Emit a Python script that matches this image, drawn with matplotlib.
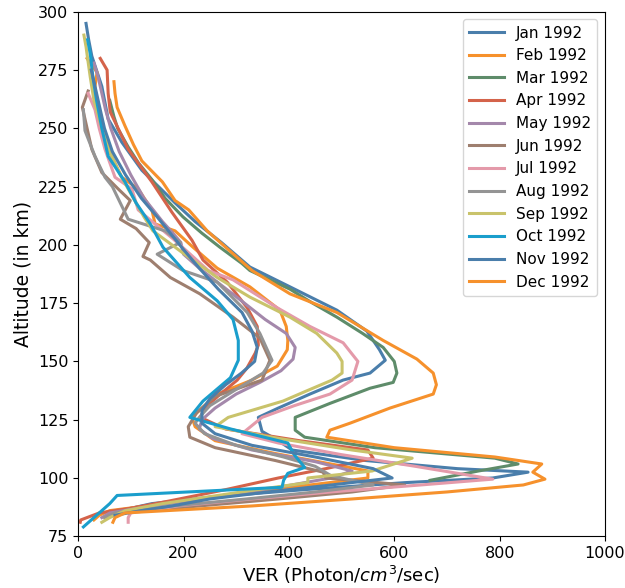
import matplotlib
matplotlib.use("Agg")
import matplotlib.pyplot as plt

months = ["Jan 1992", "Feb 1992", "Mar 1992", "Apr 1992", "May 1992", "Jun 1992",
          "Jul 1992", "Aug 1992", "Sep 1992", "Oct 1992", "Nov 1992", "Dec 1992"]
colors = ["#4a7eab", "#f6912c", "#5e8c6a", "#d4634a", "#a488ab", "#9e7f6f",
          "#e49aaa", "#949494", "#c9c36b", "#1a9ecc", "#4a7eab", "#f6912c"]

jan_alt = [295, 288, 281, 268, 254, 244, 232, 218, 210, 201, 190.5, 182, 172, 163, 155, 150.5, 145, 142, 136, 130, 126, 120, 116, 112, 107.5, 104, 102.5, 100, 98, 95, 92, 89, 86, 84]
jan_ver = [15, 20, 26, 45, 57, 83, 121, 184, 222, 272, 326, 402, 491, 548, 572, 583, 554, 503, 440, 380, 342, 349, 380, 406, 545, 720, 854, 787, 620, 430, 260, 140, 80, 60]

feb_alt = [280, 274, 268, 259, 251, 241, 229, 224, 215, 209, 206, 199, 190, 182, 172, 165, 159, 155, 148, 142, 136, 131, 126, 122, 116, 110.5, 106, 103, 100, 97, 94, 90, 86, 84, 82]
feb_ver = [17, 36, 32, 36, 42, 57, 83, 114, 140, 146, 184, 218, 264, 326, 383, 395, 398, 397, 378, 330, 264, 240, 216, 222, 260, 374, 480, 550, 550, 440, 330, 200, 60, 40, 30]

mar_alt = [262, 255, 250, 242, 235, 228, 220, 212, 205, 199, 192, 189, 181, 175, 169, 162, 156, 150, 145, 141, 138.5, 132, 126, 120.5, 117.5, 113, 108.5, 106, 103, 99]
mar_ver = [60, 68, 75, 95, 115, 140, 165, 199, 235, 269, 311, 326, 402, 445, 491, 540, 579, 600, 605, 598, 554, 478, 412, 412, 430, 563, 791, 835, 760, 668]

apr_alt = [280, 275, 265, 257, 241, 227, 214, 202, 193.5, 184, 173, 165, 157, 153.5, 147, 142, 136, 130, 126, 121, 116, 112, 108.5, 104, 100, 95, 90, 87, 85, 82, 81]
apr_ver = [42, 55, 57, 61, 95, 140, 178, 216, 237, 283, 321, 340, 342, 336, 320, 302, 270, 240, 232, 280, 420, 550, 560, 470, 380, 280, 170, 100, 40, 5, 4]

may_alt = [278, 272, 265, 258, 250, 240, 230, 220, 210, 205, 201, 196, 190, 183, 176, 168, 162, 156, 151, 146, 141, 136, 130, 125, 121, 117, 112, 107, 103, 100, 96, 92, 88, 85, 83]
may_ver = [30, 38, 45, 52, 62, 78, 100, 125, 160, 180, 195, 200, 230, 270, 310, 355, 395, 412, 408, 385, 345, 300, 260, 235, 230, 255, 330, 450, 520, 480, 380, 260, 140, 60, 45]

jun_alt = [266, 259, 254, 241, 231, 224, 219, 211, 207, 201, 195, 193.5, 186, 179, 169, 160, 150.5, 142, 135, 128, 122, 117.5, 113, 107.5, 102.5, 100, 97, 94, 91, 88, 85, 83]
jun_ver = [19, 8, 13, 26, 45, 76, 99, 80, 110, 135, 123, 137, 175, 231, 294, 345, 364, 349, 260, 225, 209, 212, 260, 374, 465, 470, 620, 520, 380, 230, 80, 55]

jul_alt = [265, 258, 250, 241, 229, 224, 215, 209, 203, 198, 189, 185, 173, 165, 158, 150, 142, 136, 131, 126, 119, 115, 110, 105, 102, 99.5, 97, 94, 91, 88, 85, 83, 81]
jul_ver = [19, 32, 40, 51, 70, 102, 114, 146, 178, 203, 247, 294, 378, 440, 503, 531, 520, 478, 410, 349, 311, 380, 500, 640, 720, 787, 650, 480, 330, 190, 100, 95, 95]

aug_alt = [258, 249, 238, 229, 225, 218, 211, 206, 201, 196, 189, 184, 171, 162, 150.5, 145, 138, 131, 126, 123.5, 119, 114, 109, 105, 101, 97, 94, 91, 88, 85, 83]
aug_ver = [10, 13, 32, 51, 65, 80, 95, 165, 194, 150, 199, 264, 321, 345, 368, 351, 300, 250, 230, 222, 240, 300, 390, 450, 480, 560, 450, 320, 180, 70, 50]

sep_alt = [290, 285, 280, 272, 262, 250, 240, 230, 220, 212, 206, 196.5, 186, 177.6, 169, 162, 153.6, 150, 145, 142, 137, 133, 126, 122, 117, 112, 108.5, 103, 100, 98, 95, 92, 89, 86, 83, 81]
sep_ver = [11, 15, 18, 23, 30, 45, 60, 80, 105, 125, 142, 199, 264, 326, 402, 453, 491, 501, 501, 482, 430, 389, 285, 260, 380, 520, 634, 558, 436, 436, 340, 250, 160, 90, 60, 45]

oct_alt = [288, 282, 272, 262, 250, 238, 227, 218, 209, 199, 186, 176, 168, 159, 150.5, 143, 133, 126, 121, 115, 110, 104.5, 102, 99, 96, 92.5, 89, 86, 82, 79]
oct_ver = [18, 23, 28, 35, 45, 57, 89, 110, 137, 161, 212, 264, 294, 304, 304, 289, 237, 212, 290, 398, 410, 430, 398, 390, 387, 74, 60, 45, 25, 10]

nov_alt = [275, 268, 260, 250, 240, 230, 220, 212, 205, 198, 190, 181, 171, 163, 156, 150, 145, 140, 134, 129, 123.5, 119, 114, 109, 104, 100, 97, 94, 91, 88, 86, 84]
nov_ver = [25, 32, 40, 50, 65, 90, 120, 150, 175, 200, 230, 266, 311, 330, 340, 335, 310, 280, 250, 235, 235, 260, 330, 450, 560, 596, 480, 360, 250, 178, 120, 70]

dec_alt = [270, 265, 259, 251, 243, 236, 227, 219, 215, 206, 198, 189, 179, 171, 165, 159, 151, 145, 140, 136, 130, 123.5, 120.5, 117.5, 113, 109, 106, 102.5, 99.5, 97, 94, 91, 88, 85, 83, 81]
dec_ver = [68, 70, 74, 89, 105, 121, 160, 184, 210, 245, 285, 330, 402, 491, 535, 579, 643, 674, 680, 674, 592, 516, 478, 472, 600, 791, 880, 863, 886, 845, 700, 520, 330, 89, 70, 66]

series = [(jan_ver, jan_alt), (feb_ver, feb_alt), (mar_ver, mar_alt), (apr_ver, apr_alt),
          (may_ver, may_alt), (jun_ver, jun_alt), (jul_ver, jul_alt), (aug_ver, aug_alt),
          (sep_ver, sep_alt), (oct_ver, oct_alt), (nov_ver, nov_alt), (dec_ver, dec_alt)]

fig = plt.figure(figsize=(6.25, 5.88), dpi=100)
ax = fig.add_axes([0.125, 0.088, 0.843, 0.892])
for (v, a), lab, c in zip(series, months, colors):
    ax.plot(v, a, color=c, lw=2.2, label=lab)

ax.set_xlim(0, 1000)
ax.set_ylim(75, 300)
ax.set_xticks([0, 200, 400, 600, 800, 1000])
ax.set_yticks([75, 100, 125, 150, 175, 200, 225, 250, 275, 300])
ax.tick_params(labelsize=11.5)
ax.set_xlabel("VER (Photon/$cm^3$/sec)", fontsize=13, labelpad=2)
ax.set_ylabel("Altitude (in km)", fontsize=13.5)
ax.legend(loc="upper right", fontsize=11, handlelength=2.3)
fig.savefig("out.png", dpi=100)
